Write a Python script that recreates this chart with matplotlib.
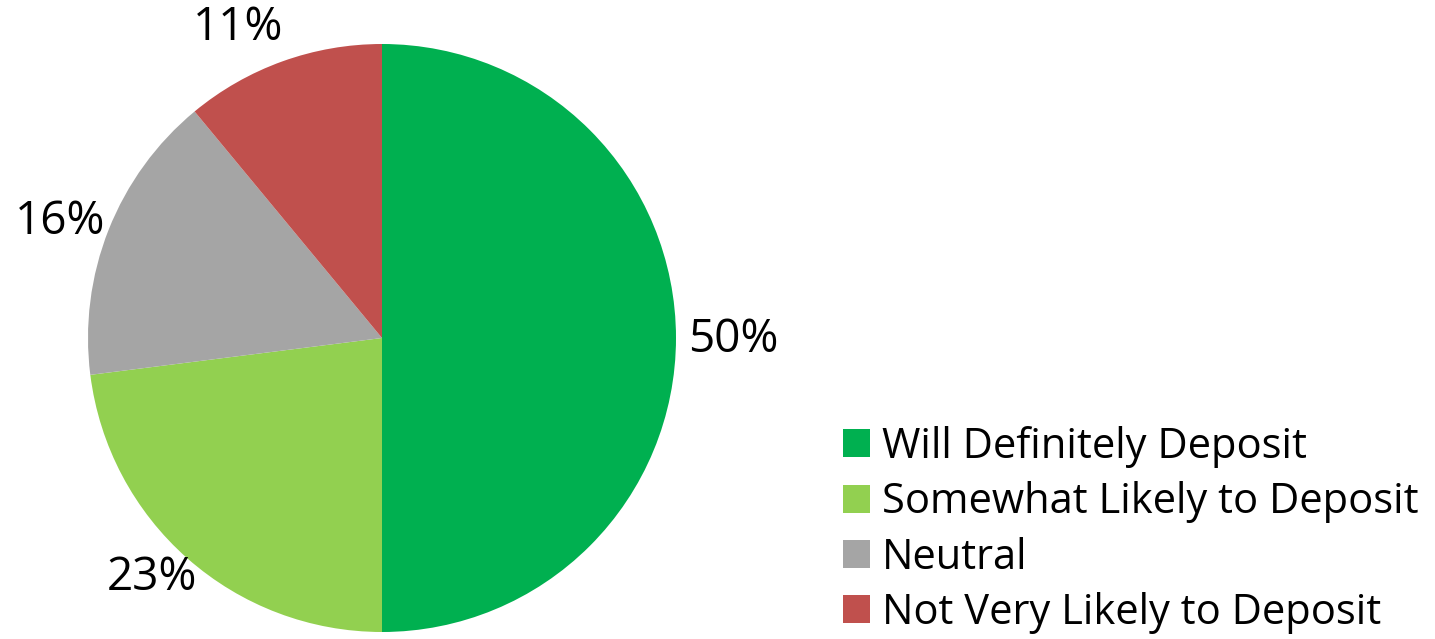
import numpy as np
import matplotlib.pyplot as plt
from matplotlib.patches import Patch

# data
categories = ["Will Definitely Deposit", "Somewhat Likely to Deposit", "Neutral", "Not Very Likely to Deposit"]
shares = [50, 23, 16, 11]
colors = ["#00B050", "#92D050", "#A5A5A5", "#C0504D"]

# where the percentage labels sit, in units of the pie radius (best-fit style)
label_xy = [(1.194, -0.007), (-0.782, -0.816), (-1.095, 0.395), (-0.49, 1.054)]

plt.rcParams['font.family'] = ['Open Sans', 'DejaVu Sans']

W, H = 1435, 639
fig = plt.figure(figsize=(W / 100, H / 100), dpi=100)

# pie axes: centre (382, 338) px, radius 294 px
cx, cy, r = 382, 338, 294
ax = fig.add_axes([(cx - r) / W, (H - cy - r) / H, 2 * r / W, 2 * r / H])
wedges, texts, autotexts = ax.pie(shares, colors=colors, startangle=90, counterclock=False, radius=1,
                                  autopct='%d%%', textprops={'fontsize': 33, 'color': 'black'},
                                  wedgeprops={'linewidth': 0})
for t, (x, y) in zip(autotexts, label_xy):
    t.set_position((x, y))
    t.set_ha('center')
    t.set_va('center')
ax.set_xlim(-1, 1)
ax.set_ylim(-1, 1)
ax.set_aspect('equal')
ax.axis('off')

handles = [Patch(facecolor=c, edgecolor='none') for c in colors]
fig.legend(handles, categories, loc='upper left', bbox_to_anchor=(843 / W, 1 - 426 / H),
           frameon=False, fontsize=30, handlelength=0.65, handleheight=0.65,
           handletextpad=0.28, labelspacing=0.32, borderpad=0, borderaxespad=0)

fig.savefig('out.png', dpi=100)
